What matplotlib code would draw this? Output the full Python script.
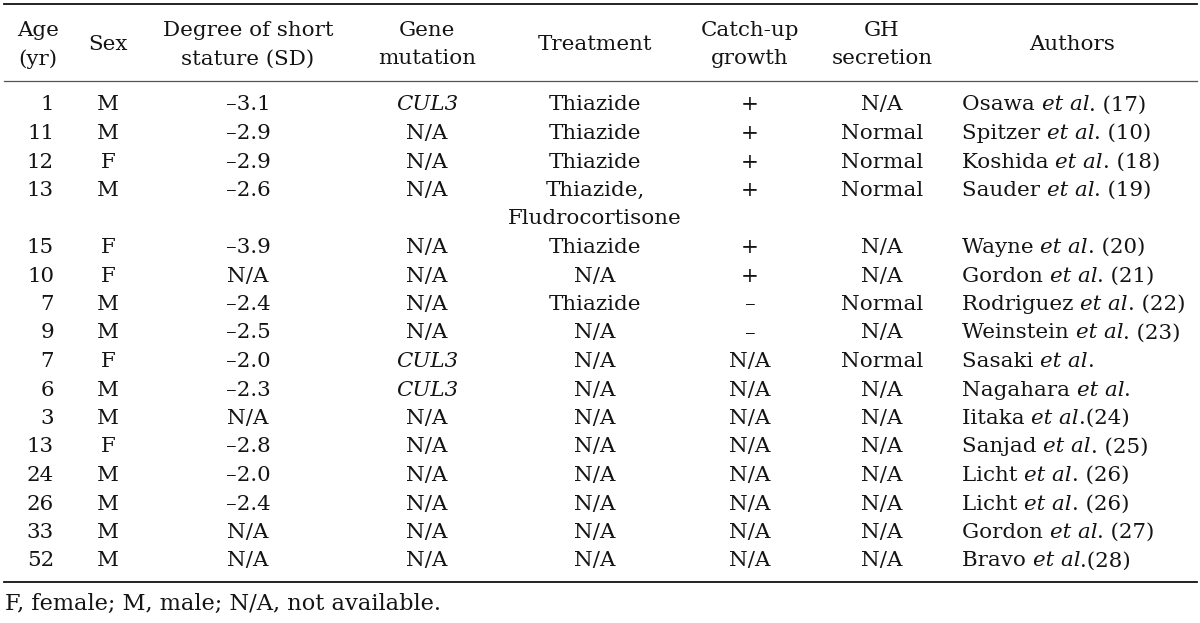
import matplotlib
matplotlib.use("Agg")
import matplotlib.pyplot as plt

# table data
ages = [1, 11, 12, 13, 15, 10, 7, 9, 7, 6, 3, 13, 24, 26, 33, 52]
sexes = ["M", "M", "F", "M", "F", "F", "M", "M", "F", "M", "M", "F", "M", "M", "M", "M"]
sd_values = ["–3.1", "–2.9", "–2.9", "–2.6", "–3.9", "N/A", "–2.4", "–2.5",
             "–2.0", "–2.3", "N/A", "–2.8", "–2.0", "–2.4", "N/A", "N/A"]
genes = ["CUL3", "N/A", "N/A", "N/A", "N/A", "N/A", "N/A", "N/A",
         "CUL3", "CUL3", "N/A", "N/A", "N/A", "N/A", "N/A", "N/A"]
treatments = ["Thiazide", "Thiazide", "Thiazide", "Thiazide,\nFludrocortisone", "Thiazide",
              "N/A", "Thiazide", "N/A", "N/A", "N/A", "N/A", "N/A", "N/A", "N/A", "N/A", "N/A"]
catchup = ["+", "+", "+", "+", "+", "+", "–", "–",
           "N/A", "N/A", "N/A", "N/A", "N/A", "N/A", "N/A", "N/A"]
gh_secretion = ["N/A", "Normal", "Normal", "Normal", "N/A", "N/A", "Normal", "N/A",
                "Normal", "N/A", "N/A", "N/A", "N/A", "N/A", "N/A", "N/A"]
author_names = ["Osawa", "Spitzer", "Koshida", "Sauder", "Wayne", "Gordon", "Rodriguez",
                "Weinstein", "Sasaki", "Nagahara", "Iitaka", "Sanjad", "Licht", "Licht",
                "Gordon", "Bravo"]
author_refs = [". (17)", ". (10)", ". (18)", ". (19)", ". (20)", ". (21)", ". (22)",
               ". (23)", ".", ".", ".(24)", ". (25)", ". (26)", ". (26)", ". (27)", ".(28)"]
headers = [["Age", "(yr)"], ["Sex"], ["Degree of short", "stature (SD)"], ["Gene", "mutation"],
           ["Treatment"], ["Catch-up", "growth"], ["GH", "secretion"], ["Authors"]]
footnote = "F, female; M, male; N/A, not available."

FONT = "DejaVu Serif"
FS = 15.4
INK = "#141414"

fig = plt.figure(figsize=(12, 6.23), dpi=100)
ax = fig.add_axes([0, 0, 1, 1])
ax.set_xlim(0, 1200)
ax.set_ylim(623, 0)
ax.axis("off")

col_x = [54, 108, 248, 427, 595, 750, 882, 1072]
row0, pitch = 105, 28.5
head_mid = 45

def txt(x, y, s, ha="center", style="normal", size=FS):
    return ax.text(x, y, s, ha=ha, va="center", family=FONT, fontsize=size,
                   color=INK, style=style)

# rules
ax.plot([4, 1197], [4, 4], color="#111111", lw=1.3)
ax.plot([4, 1197], [81, 81], color="#555555", lw=0.9)
ax.plot([4, 1197], [582, 582], color="#111111", lw=1.3)

# header
for x, lines in zip(col_x, headers):
    xx = 38 if x == 54 else x
    if len(lines) == 1:
        txt(xx, head_mid, lines[0])
    else:
        txt(xx, head_mid - 14, lines[0])
        txt(xx, head_mid + 14, lines[1])

fig.canvas.draw()
renderer = fig.canvas.get_renderer()
inv = ax.transData.inverted()

def x_end(t):
    bb = t.get_window_extent(renderer)
    return inv.transform((bb.x1, bb.y0))[0]

slot = 0
for i in range(len(ages)):
    y = row0 + slot * pitch
    txt(col_x[0], y, str(ages[i]), ha="right")
    txt(col_x[1], y, sexes[i])
    txt(col_x[2], y, sd_values[i])
    txt(col_x[3], y, genes[i], style="italic" if genes[i] != "N/A" else "normal")
    tlines = treatments[i].split("\n")
    for k, tl in enumerate(tlines):
        txt(col_x[4], y + k * pitch, tl)
    txt(col_x[5], y, catchup[i])
    txt(col_x[6], y, gh_secretion[i])
    t1 = txt(962, y, author_names[i] + " ", ha="left")
    t2 = txt(x_end(t1), y, "et al", ha="left", style="italic")
    txt(x_end(t2), y, author_refs[i], ha="left")
    slot += len(tlines)

txt(5, 604, footnote, ha="left", size=16.2)

fig.savefig("out.png", dpi=100)
